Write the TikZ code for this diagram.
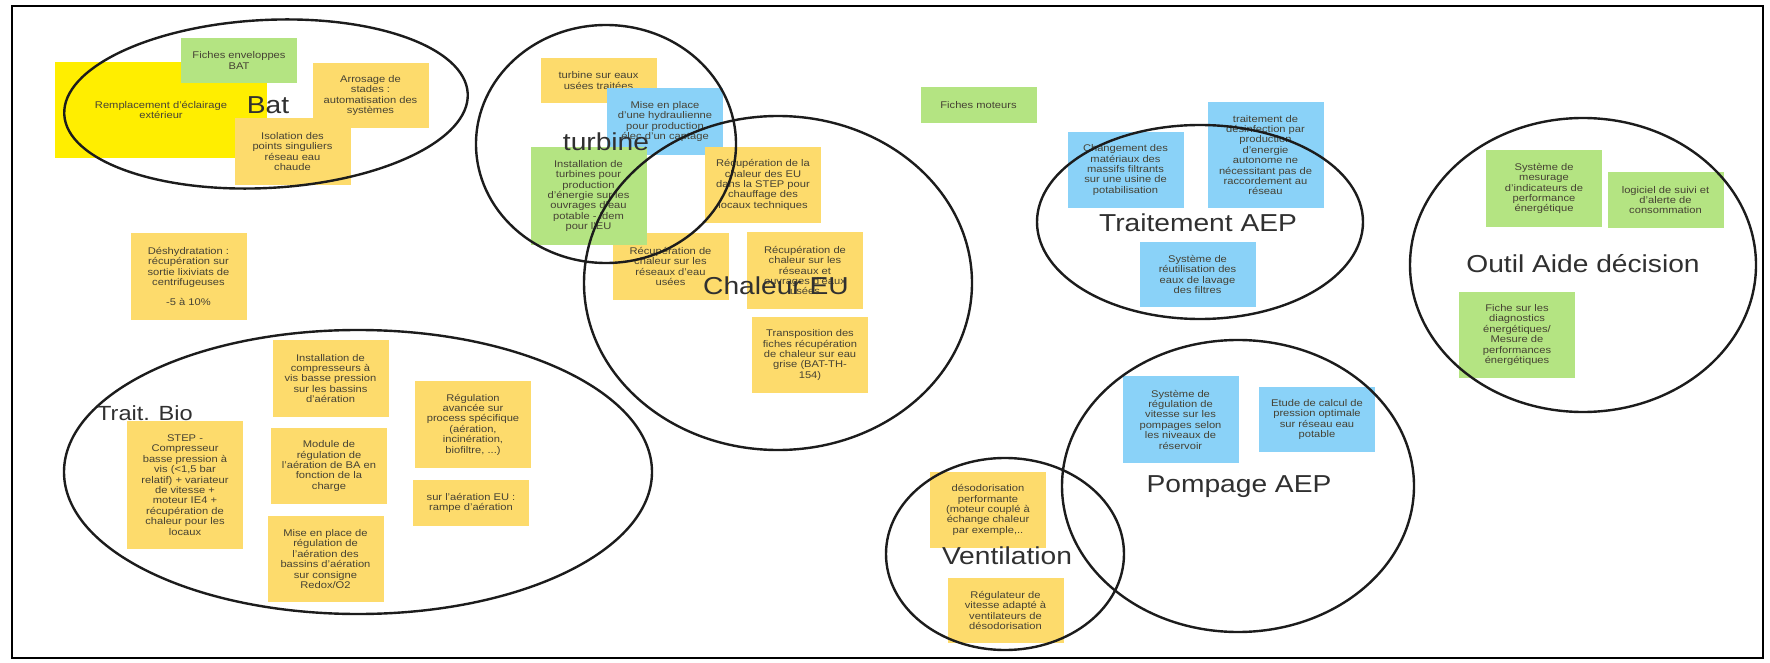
\documentclass[tikz,border=0pt]{standalone}
\usepackage{fontspec}
\setmainfont[FakeStretch=1.15]{Liberation Sans}
\usepackage{tikz}
\usetikzlibrary{shapes.geometric}
\definecolor{clrNoteyellow}{RGB}{253,219,108}
\definecolor{clrNotelemon}{RGB}{255,238,0}
\definecolor{clrNotegreen}{RGB}{180,228,130}
\definecolor{clrNoteblue}{RGB}{138,210,248}
\definecolor{clrNotetext}{RGB}{70,66,52}
\definecolor{clrZoneedge}{RGB}{28,28,28}
\definecolor{clrZonetext}{RGB}{48,48,48}
\tikzset{
  stickynote/.style={minimum width=116pt, inner sep=2pt, align=center, text=clrNotetext, font=\fontsize{9.7}{10.4}\selectfont},
  yellownote/.style={stickynote, fill=clrNoteyellow},
  lemonnote/.style={stickynote, fill=clrNotelemon},
  greennote/.style={stickynote, fill=clrNotegreen},
  bluenote/.style={stickynote, fill=clrNoteblue},
  zoneellipse/.style={ellipse, draw=clrZoneedge, line width=2.4pt, inner sep=0pt},
  zonelabel/.style={text=clrZonetext, inner sep=0pt, font=\fontsize{24.5}{28}\selectfont}
}

\begin{document}
\begin{tikzpicture}[x=1pt, y=-1pt]

\fill[white] (0,0) rectangle (1770,663);
\useasboundingbox (0,0) rectangle (1770,663);
\draw[line width=1.5pt] (12,6) rectangle (1763,658);

\node[lemonnote, minimum width=212pt, minimum height=96pt] (eclairage) at (161,110)
  {Remplacement d'éclairage\\extérieur};
\node[greennote, minimum height=45pt] (fichesbat) at (239,60.5)
  {Fiches enveloppes\\BAT};
\node[yellownote, minimum height=67pt] (isolation) at (292.5,151.5)
  {Isolation des\\points singuliers\\réseau eau\\chaude};
\node[yellownote, minimum height=65pt] (arrosage) at (370.5,95.5)
  {Arrosage de\\stades :\\automatisation des\\systèmes};

\node[yellownote, minimum height=87pt] (deshydra) at (188.5,276.5)
  {Déshydratation :\\récupération sur\\sortie lixiviats de\\centrifugeuses\\[10pt]-5 à 10\%};

\node[yellownote, minimum height=45pt] (turbeut) at (598.5,80.5)
  {turbine sur eaux\\usées traitées};
\node[bluenote, minimum height=67pt] (hydraul) at (665,121.5)
  {Mise en place\\d'une hydraulienne\\pour production\\élec d'un captage};
\node[yellownote, minimum height=67pt] (recupres) at (670.5,266.5)
  {Récupération de\\chaleur sur les\\réseaux d'eau\\usées};
\node[greennote, minimum height=98pt] (instturb) at (588.5,196)
  {Installation de\\turbines pour\\production\\d'énergie sur les\\ouvrages d'eau\\potable - idem\\pour l'EU};
\node[yellownote, minimum height=76pt] (recupstep) at (763,185)
  {Récupération de la\\chaleur des EU\\dans la STEP pour\\chauffage des\\locaux techniques};
\node[yellownote, minimum height=77pt] (recupouv) at (805,270.5)
  {Récupération de\\chaleur sur les\\réseaux et\\ouvrages d'eaux\\usées};
\node[yellownote, minimum height=76pt] (transpo) at (810,355)
  {Transposition des\\fiches récupération\\de chaleur sur eau\\grise (BAT-TH-\\154)};

\node[yellownote, minimum height=77pt] (instcomp) at (330.5,378.5)
  {Installation de\\compresseurs à\\vis basse pression\\sur les bassins\\d'aération};
\node[yellownote, minimum height=128pt] (stepcomp) at (185,485)
  {STEP -\\Compresseur\\basse pression à\\vis (<1,5 bar\\relatif) + variateur\\de vitesse +\\moteur IE4 +\\récupération de\\chaleur pour les\\locaux};
\node[yellownote, minimum height=76pt] (module) at (329,466)
  {Module de\\régulation de\\l'aération de BA en\\fonction de la\\charge};
\node[yellownote, minimum height=86pt] (redox) at (325.5,559)
  {Mise en place de\\régulation de\\l'aération des\\bassins d'aération\\sur consigne\\Redox/O2};
\node[yellownote, minimum height=87pt] (regavance) at (473,424.5)
  {Régulation\\avancée sur\\process spécifique\\(aération,\\incinération,\\biofiltre, ...)};
\node[yellownote, minimum height=46pt] (rampe) at (471,503)
  {sur l'aération EU :\\rampe d'aération};

\node[greennote, minimum height=36pt] (moteurs) at (978.5,105)
  {Fiches moteurs};

\node[bluenote, minimum height=76pt] (massifs) at (1125.5,170)
  {Changement des\\matériaux des\\massifs filtrants\\sur une usine de\\potabilisation};
\node[bluenote, minimum height=106pt] (desinfect) at (1265.5,155)
  {traitement de\\désinfection par\\production\\d'energie\\autonome ne\\nécessitant pas de\\raccordement au\\réseau};
\node[bluenote, minimum height=65pt] (lavage) at (1197.5,274.5)
  {Système de\\réutilisation des\\eaux de lavage\\des filtres};

\node[greennote, minimum height=77pt] (mesurage) at (1544,188.5)
  {Système de\\mesurage\\d'indicateurs de\\performance\\énergétique};
\node[greennote, minimum height=56pt] (logiciel) at (1665.5,200)
  {logiciel de suivi et\\d'alerte de\\consommation};
\node[greennote, minimum height=86pt] (diagnostic) at (1517,335)
  {Fiche sur les\\diagnostics\\énergétiques/\\Mesure de\\performances\\énergétiques};

\node[bluenote, minimum height=87pt] (regvitesse) at (1180.5,419.5)
  {Système de\\régulation de\\vitesse sur les\\pompages selon\\les niveaux de\\réservoir};
\node[bluenote, minimum height=65pt] (pression) at (1317,419.5)
  {Etude de calcul de\\pression optimale\\sur réseau eau\\potable};

\node[yellownote, minimum height=76pt] (desodo) at (988,510)
  {désodorisation\\performante\\(moteur couplé à\\échange chaleur\\par exemple,..};
\node[yellownote, minimum height=65pt] (regulateur) at (1005.5,610.5)
  {Régulateur de\\vitesse adapté à\\ventilateurs de\\désodorisation};

\node[zoneellipse, minimum width=404pt, minimum height=168pt, rotate=3] (bat) at (266,104) {};
\node[zoneellipse, minimum width=260pt, minimum height=238pt] (turbine) at (606,144) {};
\node[zoneellipse, minimum width=388pt, minimum height=334pt] (chaleur) at (778,283) {};
\node[zoneellipse, minimum width=588pt, minimum height=284pt] (traitbio) at (358,472) {};
\node[zoneellipse, minimum width=326pt, minimum height=194pt] (traitaep) at (1200,222) {};
\node[zoneellipse, minimum width=346pt, minimum height=294pt] (outil) at (1583,265) {};
\node[zoneellipse, minimum width=352pt, minimum height=292pt] (pompage) at (1238,486) {};
\node[zoneellipse, minimum width=238pt, minimum height=192pt] (ventil) at (1005,554) {};

\node[zonelabel] (batlabel) at (268,105) {Bat};
\node[zonelabel] (turbinelabel) at (606,142) {turbine};
\node[zonelabel] (chaleurlabel) at (776,286) {Chaleur EU};
\node[zonelabel, font=\fontsize{20.5}{24}\selectfont] (traitbiolabel) at (145,413) {Trait. Bio};
\node[zonelabel] (traitaeplabel) at (1198,223) {Traitement AEP};
\node[zonelabel] (outillabel) at (1583,264) {Outil Aide décision};
\node[zonelabel] (pompagelabel) at (1239,487) {Pompage AEP};
\node[zonelabel] (ventillabel) at (1007,556) {Ventilation};

\end{tikzpicture}
\end{document}
